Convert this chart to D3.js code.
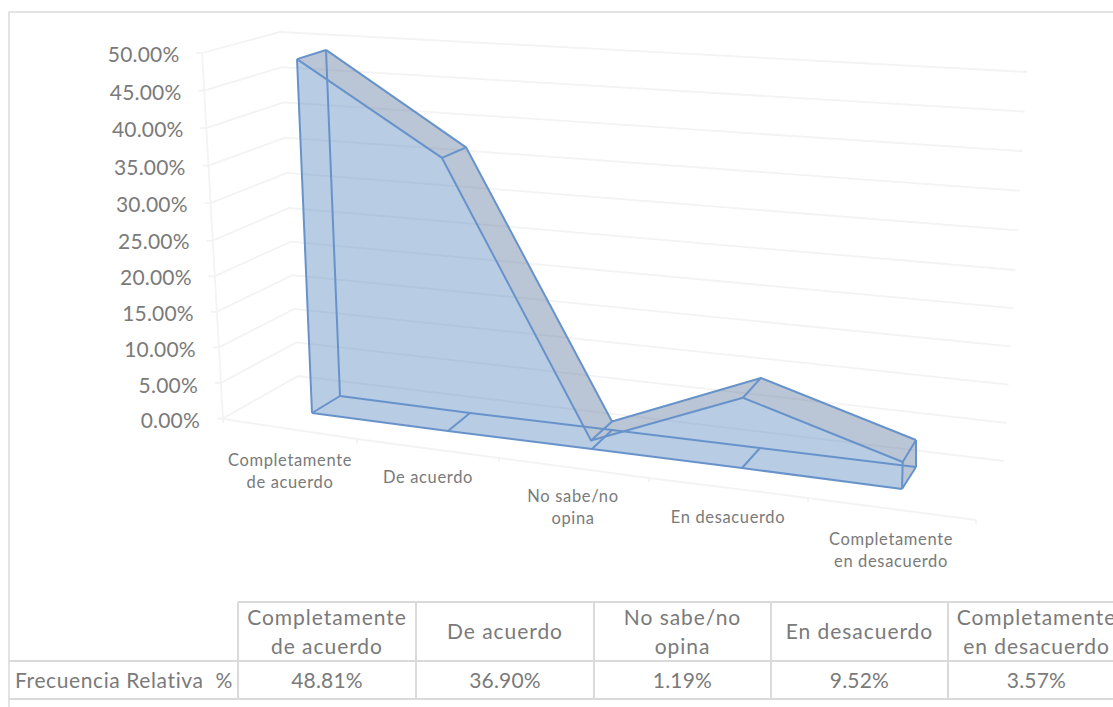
<!DOCTYPE html>
<html lang="es">
<head>
<meta charset="utf-8">
<title>Frecuencia Relativa %</title>
<script src="https://cdn.jsdelivr.net/npm/d3@7/dist/d3.min.js"></script>
<style>
  html, body { margin: 0; padding: 0; background: #fff; }
  svg { display: block; }
  text { font-family: Lato, "Open Sans", sans-serif; fill: #7a7a7a; }
</style>
</head>
<body>
<svg id="chart" width="1113" height="707"></svg>
<script>
// Series
const categories = [
  ["Completamente", "de acuerdo"],
  ["De acuerdo"],
  ["No sabe/no", "opina"],
  ["En desacuerdo"],
  ["Completamente", "en desacuerdo"]
];
const values = [48.81, 36.90, 1.19, 9.52, 3.57];
const rowLabel = "Frecuencia Relativa  %";
const axisTicks = [0, 5, 10, 15, 20, 25, 30, 35, 40, 45, 50];

const fmt = v => v.toFixed(2) + "%";
const svg = d3.select("#chart");
const slots = d3.range(categories.length);

// Oblique projection of the 3D area: every category slot has its own ground
// anchor on the front and back planes, and a per-percent rise and lean.
const piece = range => d3.scaleLinear().domain(slots).range(range);
const planes = {
  front: {
    x: piece([312, 448, 592, 742, 902]),
    y: piece([413, 431, 449, 468, 489]),
    rise: piece([7.25, 7.4, 7.1, 7.38, 7.56]),
    lean: piece([-0.307, -0.163, -0.8, 0.1, 0.2])
  },
  back: {
    x: piece([340, 470, 612, 760, 916]),
    y: piece([396, 413, 430, 448, 467]),
    rise: piece([7.09, 7.2, 7.1, 7.36, 7.56]),
    lean: piece([-0.287, -0.108, 0, 0.1, 0])
  }
};
const project = (plane, c, v) => {
  const p = planes[plane];
  return [p.x(c) + p.lean(c) * v, p.y(c) - p.rise(c) * v];
};

// Wall and floor scales
const valueMid = [0, 25, 50];
const wall = {
  leftX: d3.scaleLinear().domain([0, 50]).range([223, 202]),
  leftY: d3.scaleLinear().domain(valueMid).range([418.5, 240.7, 53]),
  cornerX: d3.scaleLinear().domain([0, 50]).range([298, 280]),
  cornerY: d3.scaleLinear().domain(valueMid).range([376, 208, 32]),
  rightX: d3.scaleLinear().domain([0, 50]).range([1004, 1027]),
  rightY: d3.scaleLinear().domain(valueMid).range([461, 270, 72])
};
const floorEdge = {
  x: d3.scaleLinear().domain(d3.range(6)).range([223, 357, 499, 649, 808, 976]),
  y: d3.scaleLinear().domain(d3.range(6)).range([419, 439, 458, 478, 498, 520])
};

const line = d3.line();
const closed = d3.line().curve(d3.curveLinearClosed);

// Outer frame of the chart area
svg.append("path")
  .attr("d", line([[9, 707], [9, 12], [1113, 12]]))
  .attr("fill", "none").attr("stroke", "#dcdcdc").attr("stroke-width", 1.6);

// Gridlines across the side wall and back wall
const grid = svg.append("g").attr("fill", "none").attr("stroke", "#f3f3f3").attr("stroke-width", 1.8);
grid.selectAll("path.wall").data(axisTicks).join("path")
  .attr("class", "wall")
  .attr("d", v => line([
    [wall.leftX(v), wall.leftY(v)],
    [wall.cornerX(v), wall.cornerY(v)],
    [wall.rightX(v), wall.rightY(v)]
  ]));
grid.append("path")
  .attr("d", line([[wall.leftX(50), wall.leftY(50)], [wall.leftX(0), wall.leftY(0)]]));
grid.selectAll("path.ytick").data(axisTicks).join("path")
  .attr("class", "ytick")
  .attr("d", v => line([[wall.leftX(v) - 6, wall.leftY(v)], [wall.leftX(v), wall.leftY(v)]]));

// Floor front edge with its category tick marks
grid.append("path")
  .attr("d", line(d3.range(6).map(i => [floorEdge.x(i), floorEdge.y(i)])));
grid.selectAll("path.xtick").data(d3.range(6)).join("path")
  .attr("class", "xtick")
  .attr("d", i => line([[floorEdge.x(i), floorEdge.y(i)], [floorEdge.x(i), floorEdge.y(i) + 4]]));

// Value axis labels follow the slant of the axis
const axisLabelRight = d3.scaleLinear().domain([0, 50]).range([200, 179.5]);
const axisLabelY = d3.scaleLinear().domain(valueMid).range([421, 242, 55]);
svg.append("g").selectAll("text").data(axisTicks).join("text")
  .attr("x", axisLabelRight)
  .attr("y", axisLabelY)
  .attr("dy", "0.35em")
  .attr("text-anchor", "end")
  .attr("font-size", 21)
  .attr("letter-spacing", 0.2)
  .text(v => fmt(v));

// Solid faces are composed as one translucent group so overlaps do not darken.
const solid = svg.append("g").attr("opacity", 0.4);
const faceBlue = "#4f81bd", faceGrey = "#557098";
const frontTop = slots.map(c => project("front", c, values[c]));
const backTop = slots.map(c => project("back", c, values[c]));
const frontBase = slots.map(c => project("front", c, 0));
const backBase = slots.map(c => project("back", c, 0));

solid.append("path")
  .attr("d", closed([...frontTop, ...frontBase.slice().reverse()]))
  .attr("fill", faceBlue);
solid.append("path")
  .attr("d", closed([backTop[0], frontTop[0], frontBase[0], backBase[0]]))
  .attr("fill", faceBlue);
solid.append("path")
  .attr("d", closed([...backBase, ...frontBase.slice().reverse()]))
  .attr("fill", faceBlue);
solid.selectAll("path.top").data(d3.pairs(slots)).join("path")
  .attr("class", "top")
  .attr("d", ([a, b]) => closed([frontTop[a], backTop[a], backTop[b], frontTop[b]]))
  .attr("fill", faceGrey);
solid.append("path")
  .attr("d", closed([frontTop[4], backTop[4], backBase[4], frontBase[4]]))
  .attr("fill", faceGrey);

// Wireframe edges of the solid
const edges = svg.append("g")
  .attr("fill", "none")
  .attr("stroke", "#6793ca")
  .attr("stroke-width", 2)
  .attr("stroke-linejoin", "round");
[frontTop, backTop, frontBase, backBase].forEach(pts => edges.append("path").attr("d", line(pts)));
slots.forEach(c => {
  edges.append("path").attr("d", line([frontTop[c], backTop[c]]));
  edges.append("path").attr("d", line([frontBase[c], backBase[c]]));
});
[0, 4].forEach(c => {
  edges.append("path").attr("d", line([frontTop[c], frontBase[c]]));
  edges.append("path").attr("d", line([backTop[c], backBase[c]]));
});

// Category labels under the floor
const catCenterX = piece([290, 428, 573, 728, 891]);
const catFirstY = piece([460, 477, 496, 517, 539]);
const catGroups = svg.append("g").selectAll("text").data(slots).join("text")
  .attr("text-anchor", "middle")
  .attr("font-size", 16.5)
  .attr("letter-spacing", 0.65);
catGroups.selectAll("tspan").data(c => categories[c].map((t, i) => ({ c, t, i }))).join("tspan")
  .attr("x", d => catCenterX(d.c))
  .attr("y", d => catFirstY(d.c) + d.i * 22.7)
  .attr("dy", "0.35em")
  .text(d => d.t);

// Data table under the chart
const colEdges = d3.scaleLinear().domain(d3.range(6)).range([238, 416, 594, 771, 948, 1125]);
const rowLines = [661, 699];
const tableTop = 602;
const rules = svg.append("g").attr("fill", "none").attr("stroke", "#dadada").attr("stroke-width", 2);
rules.append("path").attr("d", line([[colEdges(0), tableTop], [1113, tableTop]]));
rules.selectAll("path.row").data(rowLines).join("path")
  .attr("class", "row")
  .attr("d", y => line([[9, y], [1113, y]]));
rules.selectAll("path.col").data(d3.range(5)).join("path")
  .attr("class", "col")
  .attr("d", i => line([[colEdges(i), tableTop], [colEdges(i), rowLines[1]]]));

const tableText = svg.append("g").attr("font-size", 21);
const headers = tableText.selectAll("text.head").data(slots).join("text")
  .attr("class", "head")
  .attr("text-anchor", "middle")
  .attr("letter-spacing", 0.95);
headers.selectAll("tspan").data(c => categories[c].map((t, i, all) => ({ c, t, i, n: all.length }))).join("tspan")
  .attr("x", d => (colEdges(d.c) + colEdges(d.c + 1)) / 2)
  .attr("y", d => d.n === 1 ? 632 : 618 + d.i * 29)
  .attr("dy", "0.35em")
  .text(d => d.t);
tableText.selectAll("text.val").data(slots).join("text")
  .attr("class", "val")
  .attr("x", c => (colEdges(c) + colEdges(c + 1)) / 2)
  .attr("y", 681)
  .attr("dy", "0.35em")
  .attr("text-anchor", "middle")
  .attr("letter-spacing", 0.2)
  .text(c => fmt(values[c]));
tableText.append("text")
  .attr("x", 15)
  .attr("y", 681)
  .attr("dy", "0.35em")
  .attr("letter-spacing", 0.6)
  .style("white-space", "pre")
  .text(rowLabel);
</script>
</body>
</html>
